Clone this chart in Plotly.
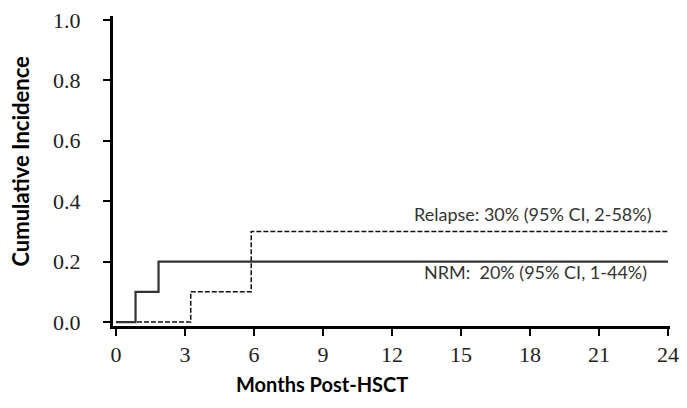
import plotly.graph_objects as go

# Data (step functions, months vs cumulative incidence)
nrm_months = [0, 0.85, 0.85, 1.85, 1.85, 24]
nrm_ci = [0, 0, 0.1, 0.1, 0.2, 0.2]
relapse_months = [0, 3.25, 3.25, 5.88, 5.88, 24]
relapse_ci = [0, 0, 0.1, 0.1, 0.3, 0.3]
x_ticks = [0, 3, 6, 9, 12, 15, 18, 21, 24]
y_ticks = [0.0, 0.2, 0.4, 0.6, 0.8, 1.0]
y_tick_labels = ["0.0", "0.2", "0.4", "0.6", "0.8", "1.0"]

fig = go.Figure()
fig.add_trace(go.Scatter(x=relapse_months, y=relapse_ci, mode="lines",
                         line=dict(color="#111111", width=1.5, dash="5px,2px"),
                         showlegend=False))
fig.add_trace(go.Scatter(x=nrm_months, y=nrm_ci, mode="lines",
                         line=dict(color="#333333", width=2.2),
                         showlegend=False))

tickfont = dict(family="Liberation Serif, DejaVu Serif, serif", size=22, color="#222222")
fig.update_layout(
    width=687, height=408,
    margin=dict(l=113, r=15, t=8, b=82),
    plot_bgcolor="white", paper_bgcolor="white",
    xaxis=dict(range=[-0.13, 24.09], tickvals=x_ticks, ticks="outside", ticklen=7,
               tickwidth=1.5, tickcolor="black", showline=True, linewidth=3,
               linecolor="black", showgrid=False, zeroline=False, tickfont=tickfont,
               ticklabeloverflow="allow"),
    yaxis=dict(range=[-0.013, 1.013], tickvals=y_ticks, ticktext=y_tick_labels,
               ticks="outside", ticklen=7, tickwidth=1.5, tickcolor="black",
               showline=True, linewidth=3, linecolor="black", showgrid=False,
               zeroline=False, tickfont=tickfont, ticklabelstandoff=18,
               ticklabeloverflow="allow"),
)

sans = "Lato, Open Sans, sans-serif"
def note(text, px, py, size, color="#333333", angle=0):
    fig.add_annotation(text=text, xref="paper", yref="paper",
                       x=(px - 113) / 559, y=(326 - py) / 318, showarrow=False,
                       xanchor="center", yanchor="middle", textangle=angle,
                       font=dict(family=sans, size=size, color=color))

note("Relapse: 30% (95% CI, 2-58%)", 535, 211, 18)
note("NRM:  20% (95% CI, 1-44%)", 537, 271, 18)
note("<b>Months Post-HSCT</b>", 323, 386, 20, "black")
note("<b>Cumulative Incidence</b>", 20, 157, 22, "black", -90)

fig.write_html("out.html", config={"displayModeBar": False},
               post_script="document.body.style.margin='0';")
